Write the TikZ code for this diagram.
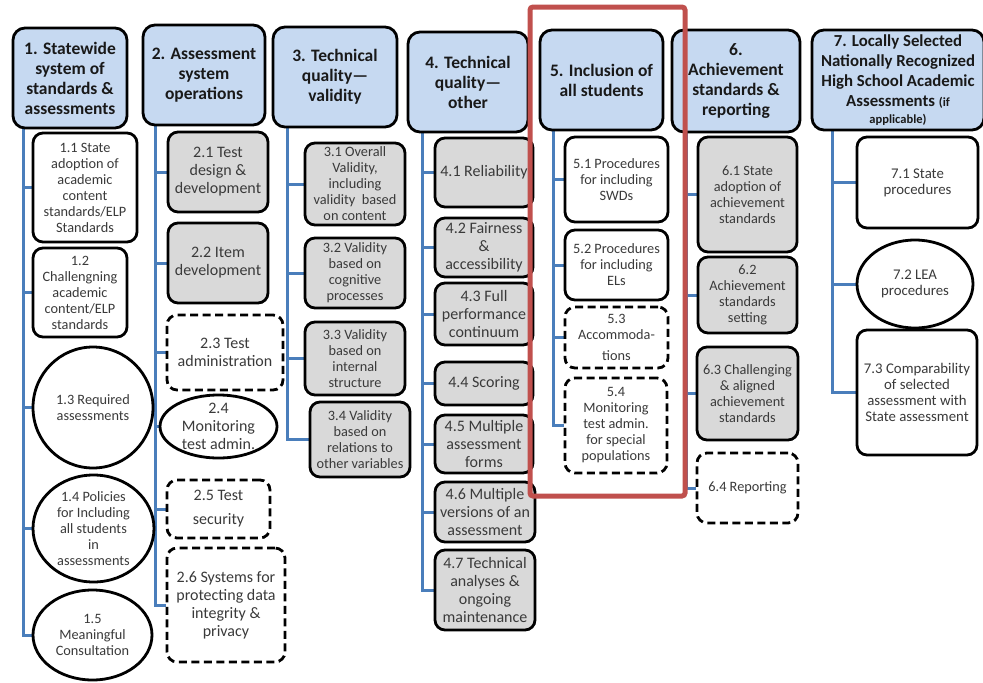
\documentclass[tikz,border=0pt]{standalone}
\usepackage{fontspec}
\setmainfont{Carlito}
\usetikzlibrary{shapes.geometric,backgrounds}
\definecolor{hdrblue}{HTML}{C6D9F1}
\definecolor{boxgray}{HTML}{D9D9D9}
\definecolor{txtgray}{HTML}{3A3A3A}
\definecolor{trunkblue}{HTML}{4A7EBB}
\definecolor{redframe}{HTML}{C0504D}
\newcommand\bx[7]{\node[#2, minimum width={(#5)-(#3)}, minimum height={(#6)-(#4)}] (#1) at ({((#3)+(#5))/2},{((#4)+(#6))/2}) {#7};}
\tikzset{
  hdr/.style={draw, line width=2.8pt, rounded corners=12pt, fill=hdrblue, align=center, inner sep=0pt, text=black!90, font=\bfseries\fontsize{17.5}{20}\selectfont},
  itembox/.style={draw, line width=2.8pt, rounded corners=10pt, fill=white, align=center, inner sep=0pt, text=txtgray},
  graybox/.style={itembox, fill=boxgray},
  dashbox/.style={itembox, dash pattern=on 8pt off 4.5pt},
  ellbox/.style={draw, ellipse, line width=2.8pt, fill=white, align=center, inner sep=-8pt, text=txtgray},
  fa/.style={font=\fontsize{14.3}{16}\selectfont},
  fb/.style={font=\fontsize{16}{18}\selectfont},
  fc/.style={font=\fontsize{14.3}{16}\selectfont},
  fd/.style={font=\fontsize{16}{18}\selectfont},
  fe/.style={font=\fontsize{14.8}{16}\selectfont},
  trunk/.style={draw=trunkblue, line width=3pt},
}
\begin{document}
\begin{tikzpicture}[x=1pt,y=-1pt]
\useasboundingbox (0,0) rectangle (983,683);
\clip (0,0) rectangle (983,683);
% column 1
\bx{h1}{hdr}{13}{28}{127}{128}{1. Statewide\\system of\\standards \&\\assessments}
\bx{n11}{itembox,fa}{33}{133}{137}{242}{1.1 State\\adoption of\\academic\\content\\standards/ELP\\Standards}
\bx{n12}{itembox,fa}{33}{248}{127}{337}{1.2\\Challengning\\academic\\content/ELP\\standards}
\bx{n13}{ellbox,fa}{33}{347}{153}{468}{1.3 Required\\assessments}
\bx{n14}{ellbox,fa}{33}{475}{154}{582}{1.4 Policies\\for Including\\all students\\in\\assessments}
\bx{n15}{ellbox,fa}{33}{590}{152}{680}{1.5\\Meaningful\\Consultation}
% column 2
\bx{h2}{hdr}{143}{25}{265}{125}{2. Assessment\\system\\operations}
\bx{n21}{graybox,fb}{168}{132}{268}{212}{2.1 Test\\design \&\\development}
\bx{n22}{graybox,fb}{168}{223}{268}{303}{2.2 Item\\development}
\bx{n23}{dashbox,fb}{167}{315}{283}{390}{2.3 Test\\administration}
\bx{n24}{ellbox,fb}{160}{395}{277}{458}{2.4\\Monitoring\\test admin.}
\bx{n25}{dashbox,fb}{167}{480}{270}{538}{2.5 Test\\[6pt]security}
\bx{n26}{dashbox,fb}{167}{548}{285}{662}{2.6 Systems for\\protecting data\\integrity \&\\privacy}
% column 3
\bx{h3}{hdr}{273}{27}{397}{127}{3. Technical\\quality—\\validity}
\bx{n31}{graybox,fc}{305}{143}{405}{225}{3.1 Overall\\Validity,\\including\\validity\ \ based\\on content}
\bx{n32}{graybox,fc}{305}{238}{405}{308}{3.2 Validity\\based on\\cognitive\\processes}
\bx{n33}{graybox,fc}{305}{322}{405}{395}{3.3 Validity\\based on\\internal\\structure}
\bx{n34}{graybox,fc}{310}{402}{410}{477}{3.4 Validity\\based on\\relations to\\other variables}
% column 4
\bx{h4}{hdr}{408}{32}{528}{132}{4. Technical\\quality—\\other}
\bx{n41}{graybox,fd}{435}{138}{533}{207}{4.1 Reliability}
\bx{n42}{graybox,fd}{435}{218}{533}{277}{4.2 Fairness\\\&\\accessibility}
\bx{n43}{graybox,fd}{435}{283}{533}{345}{4.3 Full\\performance\\continuum}
\bx{n44}{graybox,fd}{435}{362}{533}{405}{4.4 Scoring}
\bx{n45}{graybox,fd}{435}{415}{533}{473}{4.5 Multiple\\assessment\\forms}
\bx{n46}{graybox,fd}{435}{482}{535}{542}{4.6 Multiple\\versions of an\\assessment}
\bx{n47}{graybox,fd}{435}{550}{535}{630}{4.7 Technical\\analyses \&\\ongoing\\maintenance}
% column 5
\bx{h5}{hdr}{540}{30}{663}{130}{5. Inclusion of\\all students}
\bx{n51}{itembox,fc}{565}{137}{668}{222}{5.1 Procedures\\for including\\SWDs}
\bx{n52}{itembox,fc}{565}{230}{668}{300}{5.2 Procedures\\for including\\ELs}
\bx{n53}{dashbox,fc}{565}{307}{668}{368}{5.3\\Accommoda-\\[5pt]tions}
\bx{n54}{dashbox,fc}{565}{378}{667}{473}{5.4\\Monitoring\\test admin.\\for special\\populations}
% column 6
\bx{h6}{hdr}{672}{30}{800}{132}{6.\\Achievement\\standards \&\\reporting}
\bx{n61}{graybox,fc}{698}{137}{797}{252}{6.1 State\\adoption of\\achievement\\standards}
\bx{n62}{graybox,fc}{698}{257}{797}{333}{6.2\\Achievement\\standards\\setting}
\bx{n63}{graybox,fc}{697}{347}{798}{440}{6.3 Challenging\\\& aligned\\achievement\\standards}
\bx{n64}{dashbox,fc}{697}{453}{798}{523}{6.4 Reporting}
% column 7
\bx{h7}{hdr,font=\bfseries\fontsize{16.8}{20}\selectfont}{812}{30}{984}{130}{7. Locally Selected\\Nationally Recognized\\High School Academic\\Assessments {\fontsize{12.5}{14}\selectfont (if}\\[-3pt]{\fontsize{12.5}{13}\selectfont applicable)}}
\bx{n71}{itembox,fe}{857}{137}{978}{228}{7.1 State\\procedures}
\bx{n72}{ellbox,fe}{857}{240}{973}{328}{7.2 LEA\\procedures}
\bx{n73}{itembox,fe}{857}{330}{977}{455}{7.3 Comparability\\of selected\\assessment with\\State assessment}
% trunks and connectors
\coordinate (t1) at (23,128);
\coordinate (t2) at (155,125);
\coordinate (t3) at (287,127);
\coordinate (t4) at (422,132);
\coordinate (t5) at (553,130);
\coordinate (t6) at (686,132);
\coordinate (t7) at (832,130);
\begin{scope}[on background layer]
\draw[trunk] (t1) |- (n15.west);
\foreach \n in {n11,n12,n13,n14} \draw[trunk] (t1 |- \n.west) -- (\n.west);
\draw[trunk] (t2) |- (n26.west);
\foreach \n in {n21,n22,n23,n24,n25} \draw[trunk] (t2 |- \n.west) -- (\n.west);
\draw[trunk] (t3) |- (n34.west);
\foreach \n in {n31,n32,n33} \draw[trunk] (t3 |- \n.west) -- (\n.west);
\draw[trunk] (t4) |- (n47.west);
\foreach \n in {n41,n42,n43,n44,n45,n46} \draw[trunk] (t4 |- \n.west) -- (\n.west);
\draw[trunk] (t5) |- (n54.west);
\foreach \n in {n51,n52,n53} \draw[trunk] (t5 |- \n.west) -- (\n.west);
\draw[trunk] (t6) |- (n64.west);
\foreach \n in {n61,n62,n63} \draw[trunk] (t6 |- \n.west) -- (\n.west);
\draw[trunk] (t7) |- (n73.west);
\foreach \n in {n71,n72} \draw[trunk] (t7 |- \n.west) -- (\n.west);
\end{scope}
% highlight frame
\coordinate (r1) at (530,7);
\coordinate (r2) at (685,496);
\draw[redframe, line width=5pt, rounded corners=3pt] (r1) rectangle (r2);
\end{tikzpicture}
\end{document}
